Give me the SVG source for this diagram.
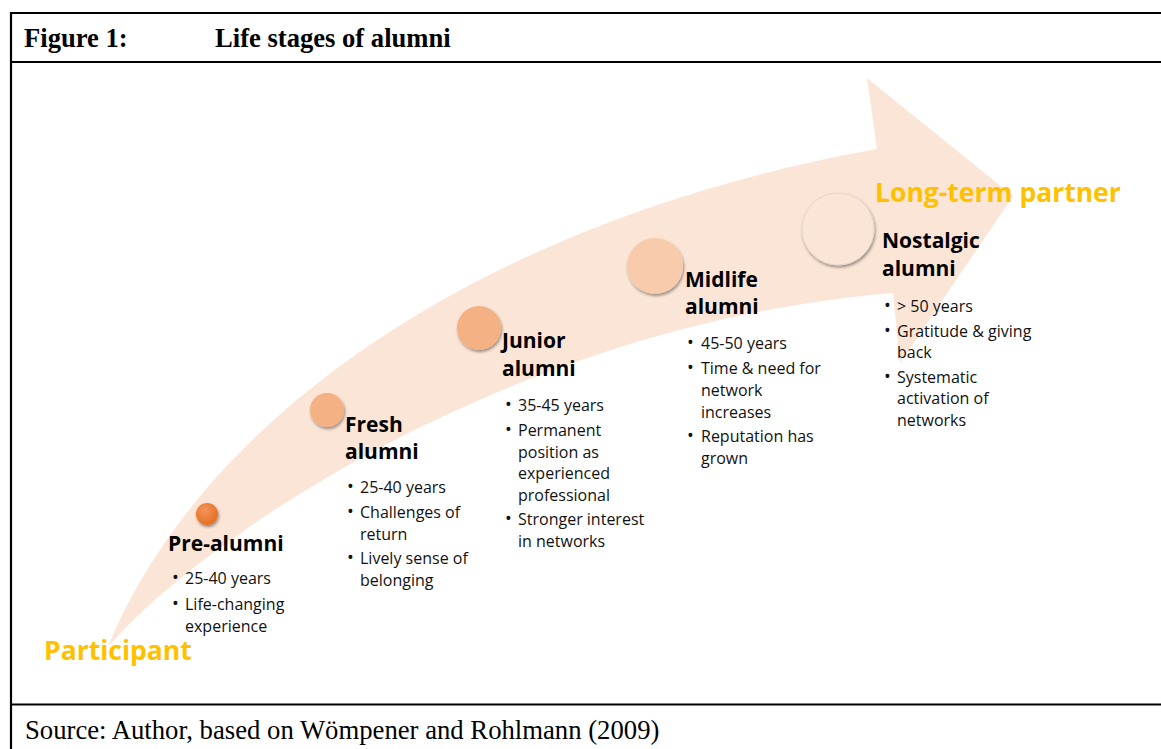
<svg xmlns="http://www.w3.org/2000/svg" width="1161" height="749" viewBox="0 0 1161 749">
  <style>
    .frame { stroke: #000; stroke-width: 2.2; fill: none; }
    .title { font-family: "Liberation Serif", "Times New Roman", serif; font-weight: bold; font-size: 26.6px; fill: #000; }
    .source { font-family: "Liberation Serif", "Times New Roman", serif; font-size: 26.7px; fill: #000; }
    .head { font-family: "Open Sans", "Noto Sans", sans-serif; font-weight: bold; font-size: 21px; fill: #000; }
    .body { font-family: "Open Sans", "Noto Sans", sans-serif; font-size: 16px; fill: #111; }
    .bul { font-family: "Open Sans", "Noto Sans", sans-serif; font-size: 18px; fill: #111; }
    .gold { font-family: "Open Sans", "Noto Sans", sans-serif; font-weight: bold; font-size: 26.5px; fill: #FFC000; }
  </style>
  <defs>
    <filter id="sh" x="-40%" y="-40%" width="180%" height="180%">
      <feDropShadow dx="1" dy="2" stdDeviation="1.5" flood-color="#000" flood-opacity="0.4"/>
    </filter>
    <radialGradient id="g1" cx="40%" cy="35%" r="70%">
      <stop offset="0" stop-color="#F4955A"/>
      <stop offset="1" stop-color="#E46C1F"/>
    </radialGradient>
  </defs>
  <rect width="1161" height="749" fill="#fff"/>

  <!-- frame -->
  <g id="frame">
    <line class="frame" x1="11" y1="13" x2="1161" y2="13"/>
    <line class="frame" x1="11" y1="62" x2="1161" y2="62"/>
    <line class="frame" x1="11" y1="704.5" x2="1161" y2="704.5"/>
    <line class="frame" x1="11" y1="12" x2="11" y2="749"/>
    <text class="title" x="24" y="47">Figure 1:</text>
    <text class="title" x="215" y="47">Life stages of alumni</text>
    <text class="source" x="25" y="739">Source: Author, based on Wömpener and Rohlmann (2009)</text>
  </g>

  <!-- curved arrow -->
  <g id="arrow">
    <path d="M108,647 C200,420 480,220 877,149 L867,78 L1013,196 L900,363 L893,293 C510,325 200,540 108,647 Z" fill="#FBE5D6"/>
  </g>

  <g id="labels">
    <text class="gold" x="44" y="660">Participant</text>
    <text class="gold" x="875" y="202">Long-term partner</text>
  </g>

  <g id="pre-alumni">
    <circle cx="207" cy="514" r="11" fill="url(#g1)" filter="url(#sh)"/>
    <text class="head" x="168" y="551">Pre-alumni</text>
    <text class="bul" x="172" y="584">•</text>
    <text class="bul" x="172" y="610">•</text>
    <text class="body"><tspan x="185" y="584">25-40 years</tspan>
      <tspan x="185" y="610">Life-changing</tspan>
      <tspan x="185" y="632">experience</tspan></text>
  </g>

  <g id="fresh-alumni">
    <circle cx="327" cy="410" r="17" fill="#F4B183" filter="url(#sh)"/>
    <text class="head"><tspan x="345" y="432">Fresh</tspan><tspan x="345" y="459">alumni</tspan></text>
    <text class="bul" x="347" y="493">•</text>
    <text class="bul" x="347" y="518">•</text>
    <text class="bul" x="347" y="564">•</text>
    <text class="body"><tspan x="360" y="493">25-40 years</tspan>
      <tspan x="360" y="518">Challenges of</tspan>
      <tspan x="360" y="540">return</tspan>
      <tspan x="360" y="564">Lively sense of</tspan>
      <tspan x="360" y="586">belonging</tspan></text>
  </g>

  <g id="junior-alumni">
    <circle cx="479" cy="328" r="22" fill="#F4B183" filter="url(#sh)"/>
    <text class="head"><tspan x="502" y="348">Junior</tspan><tspan x="502" y="376">alumni</tspan></text>
    <text class="bul" x="505" y="411">•</text>
    <text class="bul" x="505" y="436">•</text>
    <text class="bul" x="505" y="525">•</text>
    <text class="body"><tspan x="518" y="411">35-45 years</tspan>
      <tspan x="518" y="436">Permanent</tspan>
      <tspan x="518" y="458">position as</tspan>
      <tspan x="518" y="479">experienced</tspan>
      <tspan x="518" y="501">professional</tspan>
      <tspan x="518" y="525">Stronger interest</tspan>
      <tspan x="518" y="547">in networks</tspan></text>
  </g>

  <g id="midlife-alumni">
    <circle cx="655" cy="266" r="28" fill="#F8CBAD" filter="url(#sh)"/>
    <text class="head"><tspan x="685" y="287">Midlife</tspan><tspan x="685" y="314">alumni</tspan></text>
    <text class="bul" x="687" y="349">•</text>
    <text class="bul" x="687" y="374">•</text>
    <text class="bul" x="687" y="442">•</text>
    <text class="body"><tspan x="701" y="349">45-50 years</tspan>
      <tspan x="701" y="374">Time &amp; need for</tspan>
      <tspan x="701" y="396">network</tspan>
      <tspan x="701" y="418">increases</tspan>
      <tspan x="701" y="442">Reputation has</tspan>
      <tspan x="701" y="464">grown</tspan></text>
  </g>

  <g id="nostalgic-alumni">
    <circle cx="838" cy="229" r="36" fill="#FBE5D6" stroke="#e8d6cb" stroke-width="1" filter="url(#sh)"/>
    <text class="head"><tspan x="882" y="248">Nostalgic</tspan><tspan x="882" y="276">alumni</tspan></text>
    <text class="bul" x="884" y="312">•</text>
    <text class="bul" x="884" y="337">•</text>
    <text class="bul" x="884" y="383">•</text>
    <text class="body"><tspan x="897" y="312">&gt; 50 years</tspan>
      <tspan x="897" y="337">Gratitude &amp; giving</tspan>
      <tspan x="897" y="358">back</tspan>
      <tspan x="897" y="383">Systematic</tspan>
      <tspan x="897" y="404">activation of</tspan>
      <tspan x="897" y="426">networks</tspan></text>
  </g>
</svg>
